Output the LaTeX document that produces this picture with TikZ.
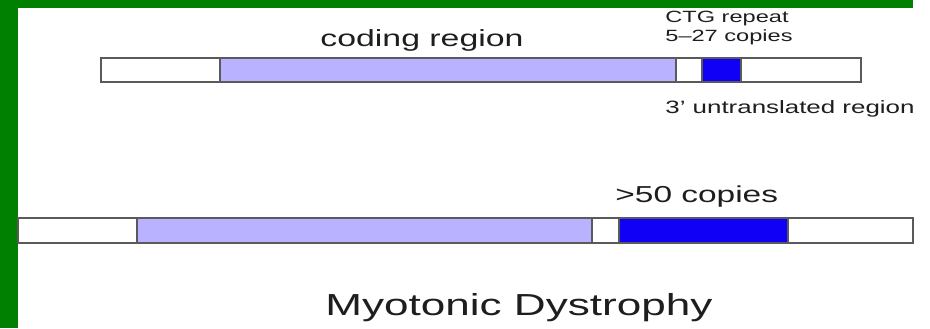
\documentclass[tikz,border=0pt]{standalone}
\usepackage{fontspec}
\setmainfont{Liberation Sans}
\usepackage{tikz}
\definecolor{slidegreen}{RGB}{0,128,0}
\definecolor{codelav}{RGB}{184,178,255}
\definecolor{ctgblue}{RGB}{16,0,245}
\definecolor{edgegray}{RGB}{90,90,90}
\definecolor{txtgray}{RGB}{30,30,30}
\tikzset{
  segbox/.style={draw=edgegray, line width=1.5pt},
  lbl/.style={inner sep=0pt, anchor=base west, xscale=1.45, text=txtgray}
}

\begin{document}
\begin{tikzpicture}[x=0.75pt,y=0.75pt,yscale=-1,xscale=1]
\useasboundingbox (0,0) rectangle (930,328);
\fill[white] (0,0) rectangle (930,328);

%Shape: slide border
\fill[slidegreen] (0,0) rectangle (18,328);
\fill[slidegreen] (0,0) rectangle (913,8);

%Shape: Rectangle normal gene
\draw[segbox, fill=white]    (101,58) rectangle (220,82);
\draw[segbox, fill=codelav]  (220,58) rectangle (676,82);
\draw[segbox, fill=white]    (676,58) rectangle (702,82);
\draw[segbox, fill=ctgblue]  (702,58) rectangle (741,82);
\draw[segbox, fill=white]    (741,58) rectangle (861,82);

%Shape: Rectangle expanded gene
\draw[segbox, fill=white]    (18,218) rectangle (137,243);
\draw[segbox, fill=codelav]  (137,218) rectangle (592,243);
\draw[segbox, fill=white]    (592,218) rectangle (619,243);
\draw[segbox, fill=ctgblue]  (619,218) rectangle (788,243);
\draw[segbox, fill=white]    (788,218) rectangle (913,243);

% Text Node
\draw (320,47) node [lbl, font=\fontsize{17.5}{21}\selectfont] (coding) {coding region};
% Text Node
\draw (665,23) node [lbl, font=\fontsize{12.2}{14.25}\selectfont] (ctg) {CTG repeat};
% Text Node
\draw (665,42) node [lbl, font=\fontsize{12.2}{14.25}\selectfont] (few) {5--27 copies};
% Text Node
\draw (665,113) node [lbl, font=\fontsize{13.4}{16}\selectfont] (utr) {3' untranslated region};
% Text Node
\draw (615,202) node [lbl, font=\fontsize{17.3}{21}\selectfont] (many) {>50 copies};
% Text Node
\draw (325,315) node [lbl, font=\fontsize{22.8}{27}\selectfont] (title) {Myotonic Dystrophy};

\end{tikzpicture}
\end{document}
